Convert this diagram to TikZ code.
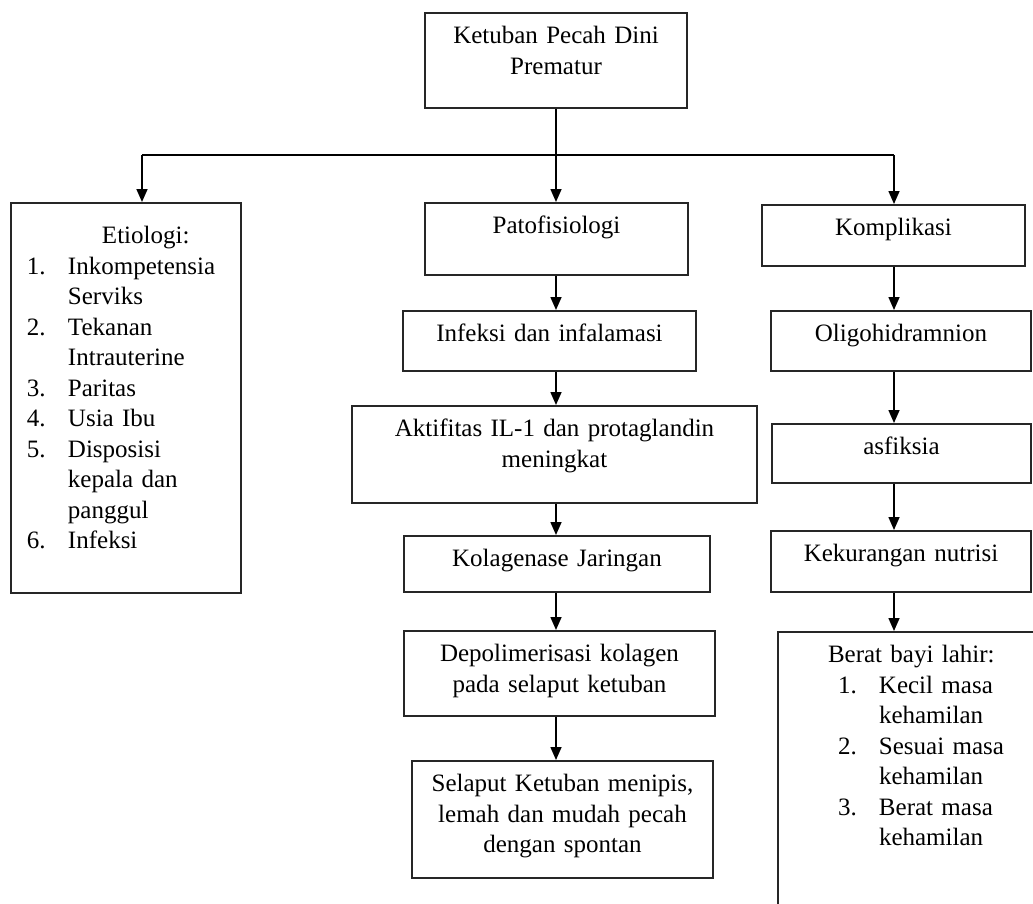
\documentclass[tikz,border=0pt]{standalone}
\usepackage{fontspec}
\setmainfont{Liberation Serif}
\usetikzlibrary{arrows.meta}
\newcommand{\butir}[1]{\makebox[41bp][l]{#1}}
\tikzset{
  kotak/.style 2 args={draw=black!85, line width=1.6bp, anchor=north, inner sep=0pt,
    text width=#1, text height=31bp, text depth=#2, align=center},
  panah/.style={-{Triangle[width=11bp,length=13bp]}, line width=1.6bp},
}
\begin{document}
\begin{tikzpicture}[x=1bp, y=-1bp, font=\fontsize{25bp}{30.5bp}\selectfont]
\useasboundingbox (0,0) rectangle (1033,904);
\clip (0,0) rectangle (1033,904);
\node[kotak={262bp}{64bp}] (judul) at (556,12) {Ketuban Pecah Dini\\Prematur};
\coordinate (cabang) at (556,155);
\coordinate (kiri) at (142,155);
\coordinate (kanan) at (894,155);

\node[kotak={198bp}{349bp}, text height=41bp, inner xsep=16bp, align=left] (etiologi) at (126,202)
  {\hspace*{75bp}Etiologi:\\
   \butir{1.}Inkompetensia\\ \hspace*{41bp}Serviks\\
   \butir{2.}Tekanan\\ \hspace*{41bp}Intrauterine\\
   \butir{3.}Paritas\\
   \butir{4.}Usia Ibu\\
   \butir{5.}Disposisi\\ \hspace*{41bp}kepala dan\\ \hspace*{41bp}panggul\\
   \butir{6.}Infeksi};

\node[kotak={263bp}{41bp}] (pato) at (556.5,202) {Patofisiologi};
\node[kotak={293bp}{29bp}] (infeksi) at (549.5,310) {Infeksi dan infalamasi};
\node[kotak={405bp}{66bp}] (aktifitas) at (554.5,405) {Aktifitas IL-1 dan protaglandin\\meningkat};
\node[kotak={306bp}{25bp}] (kolagenase) at (557,535) {Kolagenase Jaringan};
\node[kotak={311bp}{54bp}] (depolimerisasi) at (559.5,630) {Depolimerisasi kolagen\\pada selaput ketuban};
\node[kotak={301bp}{86bp}] (selaput) at (562.5,760) {Selaput Ketuban menipis,\\lemah dan mudah pecah\\dengan spontan};

\node[kotak={263bp}{30bp}] (komplikasi) at (893.5,204) {Komplikasi};
\node[kotak={260bp}{29bp}] (oligo) at (901,310) {Oligohidramnion};
\node[kotak={259bp}{28bp}] (asfiksia) at (901.5,423) {asfiksia};
\node[kotak={260bp}{30bp}] (nutrisi) at (901,530) {Kekurangan nutrisi};
\node[kotak={250bp}{300bp}, inner xsep=50bp, align=left] (berat) at (953,631)
  {Berat bayi lahir:\\
   \hspace*{10bp}\butir{1.}Kecil masa\\ \hspace*{51bp}kehamilan\\
   \hspace*{10bp}\butir{2.}Sesuai masa\\ \hspace*{51bp}kehamilan\\
   \hspace*{10bp}\butir{3.}Berat masa\\ \hspace*{51bp}kehamilan};

\draw[line width=1.6bp] (judul.south) -- (cabang);
\draw[line width=1.6bp] (kiri) -- (kanan);
\draw[panah] (kiri) -- (kiri |- etiologi.north);
\draw[panah] (cabang) -- (cabang |- pato.north);
\draw[panah] (kanan) -- (kanan |- komplikasi.north);

\draw[panah] (pato.south -| cabang) -- (infeksi.north -| cabang);
\draw[panah] (infeksi.south -| cabang) -- (aktifitas.north -| cabang);
\draw[panah] (aktifitas.south -| cabang) -- (kolagenase.north -| cabang);
\draw[panah] (kolagenase.south -| cabang) -- (depolimerisasi.north -| cabang);
\draw[panah] (depolimerisasi.south -| cabang) -- (selaput.north -| cabang);

\draw[panah] (komplikasi.south -| kanan) -- (oligo.north -| kanan);
\draw[panah] (oligo.south -| kanan) -- (asfiksia.north -| kanan);
\draw[panah] (asfiksia.south -| kanan) -- (nutrisi.north -| kanan);
\draw[panah] (nutrisi.south -| kanan) -- (berat.north -| kanan);
\end{tikzpicture}
\end{document}
